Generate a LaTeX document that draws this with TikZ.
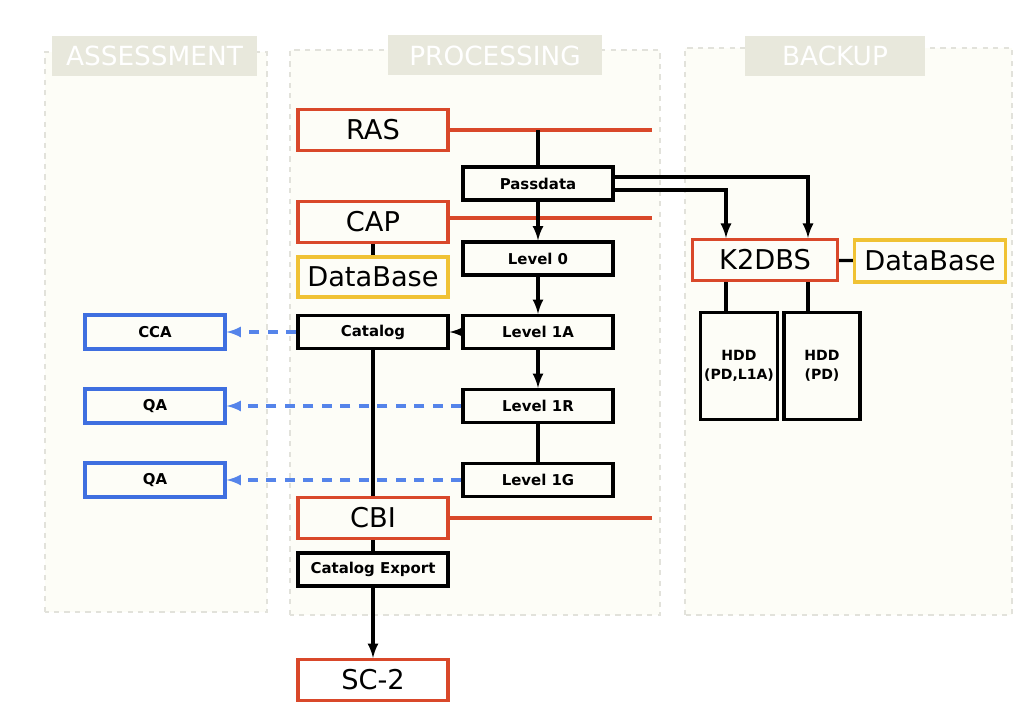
\documentclass[tikz,border=0pt]{standalone}
\usepackage{fontspec}
\setmainfont{DejaVu Sans}
\usetikzlibrary{shapes,arrows,positioning}

\definecolor{rojo}{HTML}{D9482A}
\definecolor{amarillo}{HTML}{F0C234}
\definecolor{azul}{HTML}{3F6FE0}
\definecolor{azulclaro}{HTML}{5584EA}
\definecolor{fondo}{HTML}{FDFDF7}
\definecolor{borde}{HTML}{E2E2DB}
\definecolor{cabecera}{HTML}{E8E8DC}

\tikzset{
  grande/.style={draw, line width=1.8pt, minimum width=3cm, minimum height=0.82cm, inner sep=0pt, font=\fontsize{15.5}{18}\selectfont},
  caja/.style={draw=black, line width=1.8pt, minimum width=3cm, minimum height=0.66cm, inner sep=0pt, font=\fontsize{8.5}{10}\selectfont\bfseries},
  evalua/.style={draw=azul, line width=1.8pt, minimum width=2.8cm, minimum height=0.68cm, inner sep=0pt, font=\fontsize{8.5}{10}\selectfont\bfseries},
  disco/.style={draw=black, line width=1.8pt, minimum width=1.54cm, minimum height=2.14cm, inner sep=0pt, align=center, font=\fontsize{8}{11}\selectfont\bfseries},
  panel/.style={draw=borde, fill=fondo, dashed, line width=0.6pt},
  titulo/.style={fill=cabecera, text=white, minimum height=0.8cm, inner sep=0pt, font=\fontsize{15}{18}\selectfont},
  flecha/.style={black, line width=1.8pt, -latex},
  linea/.style={black, line width=1.8pt},
  rojalinea/.style={rojo, line width=1.8pt},
  trazos/.style={azulclaro, line width=1.8pt, dash pattern=on 0.2cm off 0.17cm, -latex}
}

\begin{document}
\begin{tikzpicture}
\useasboundingbox (0,0) rectangle (20.46,14.32);

%paneles
	\draw[panel] (0.9,2.08) rectangle (5.34,13.28);
	\draw[panel] (5.8,2.02) rectangle (13.2,13.32);
	\draw[panel] (13.7,2.02) rectangle (20.24,13.36);
	\node[titulo, minimum width=4.1cm] (tAssess) at (3.09,13.2) {ASSESSMENT};
	\node[titulo, minimum width=4.28cm] (tProc) at (9.9,13.21) {PROCESSING};
	\node[titulo, minimum width=3.6cm] (tBack) at (16.7,13.2) {BACKUP};

%processing
	\node[grande, draw=rojo] (RAS) at (7.46,11.72) {RAS};
	\node[caja] (Passdata) at (10.76,10.65) {Passdata};
	\node[grande, draw=rojo] (CAP) at (7.46,9.88) {CAP};
	\node[grande, draw=amarillo, minimum height=0.8cm] (DBcap) at (7.46,8.78) {DataBase};
	\node[caja] (Level0) at (10.76,9.15) {Level 0};
	\node[caja] (Catalog) at (7.46,7.68) {Catalog};
	\node[caja] (Level1A) at (10.76,7.68) {Level 1A};
	\node[caja] (Level1R) at (10.76,6.2) {Level 1R};
	\node[caja] (Level1G) at (10.76,4.72) {Level 1G};
	\node[grande, draw=rojo] (CBI) at (7.46,3.96) {CBI};
	\node[caja] (Export) at (7.46,2.93) {Catalog Export};
	\node[grande, draw=rojo] (SC2) at (7.46,0.72) {SC-2};

%assessment
	\node[evalua] (CCA) at (3.1,7.68) {CCA};
	\node[evalua] (QAr) at (3.1,6.2) {QA};
	\node[evalua] (QAg) at (3.1,4.72) {QA};

%backup
	\node[grande, draw=rojo, minimum width=2.9cm] (K2DBS) at (15.3,9.12) {K2DBS};
	\node[grande, draw=amarillo, minimum width=3.02cm, minimum height=0.84cm] (DBk2) at (18.6,9.1) {DataBase};
	\node[disco] (HDDa) at (14.78,7.0) {HDD\\(PD,L1A)};
	\node[disco, minimum width=1.52cm] (HDDb) at (16.44,7.0) {HDD\\(PD)};

%lineas rojas
	\coordinate (finRAS) at (13.04,11.72);
	\coordinate (finCAP) at (13.04,9.96);
	\coordinate (finCBI) at (13.04,3.96);
	\draw[rojalinea] (RAS.east) -- (finRAS);
	\draw[rojalinea] (CAP.east |- finCAP) -- (finCAP);
	\draw[rojalinea] (CBI.east) -- (finCBI);

%flujo
	\draw[linea] (Passdata.north) -- (Passdata.north |- RAS.east);
	\draw[flecha] (Passdata) -- (Level0);
	\draw[flecha] (Level0) -- (Level1A);
	\draw[flecha] (Level1A) -- (Level1R);
	\draw[linea] (Level1R) -- (Level1G);
	\draw[flecha] (Level1A) -- (Catalog);
	\draw[linea] (CAP) -- (DBcap);
	\draw[linea] (CBI) -- (Export);
	\draw[flecha] (Export) -- (SC2);

%passdata a K2DBS
	\draw[flecha] ([yshift=0.13cm]Passdata.east) -| ([xshift=0.86cm]K2DBS.north);
	\draw[flecha] ([yshift=-0.13cm]Passdata.east) -| ([xshift=-0.78cm]K2DBS.north);
	\draw[linea] (K2DBS) -- (DBk2);
	\draw[linea] ([xshift=-0.78cm]K2DBS.south) -- ([xshift=-0.78cm]K2DBS.south |- HDDa.north);
	\draw[linea] ([xshift=0.86cm]K2DBS.south) -- ([xshift=0.86cm]K2DBS.south |- HDDb.north);

%trazos azules
	\draw[trazos] (Catalog) -- (CCA);
	\draw[trazos] (Level1R) -- (QAr);
	\draw[trazos] (Level1G) -- (QAg);
	\draw[linea] (Catalog) -- (CBI); %encima de los trazos
\end{tikzpicture}
\end{document}
